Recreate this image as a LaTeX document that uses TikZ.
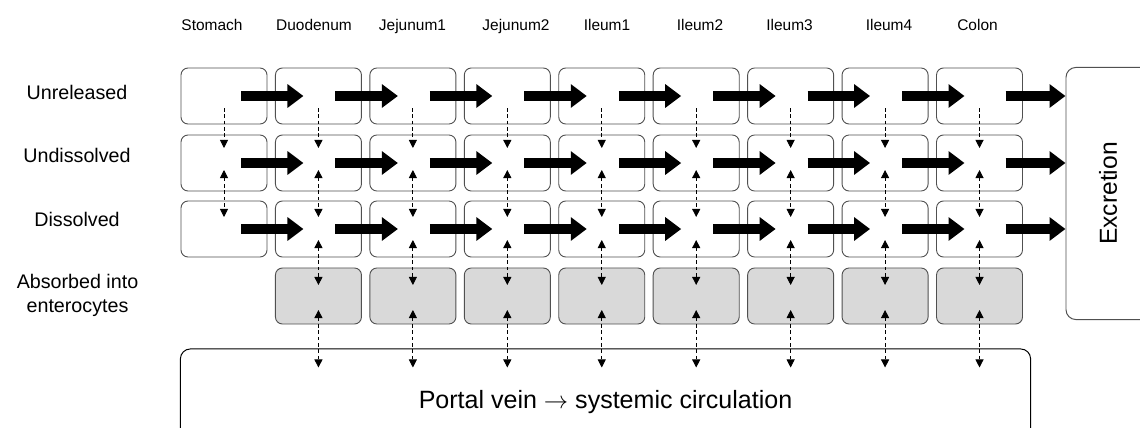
\documentclass[tikz,border=0pt]{standalone}
\usepackage{fontspec}
\setmainfont{Liberation Sans}
\usetikzlibrary{arrows.meta,positioning,calc}
\definecolor{boxline}{HTML}{505050}
\definecolor{absfill}{HTML}{D9D9D9}

\begin{document}
\begin{tikzpicture}[
  x=0.025cm, y=-0.025cm,
  compnode/.style={draw=boxline, rounded corners=5pt, minimum width=2.15cm, minimum height=1.4cm,
                   inner sep=0pt, line width=0.65pt},
  absnode/.style={compnode, fill=absfill},
  bignode/.style={draw, rounded corners=7pt, line width=0.7pt, inner sep=0pt},
  collabel/.style={font=\fontsize{11}{13}\selectfont, anchor=base},
  rowlabel/.style={font=\fontsize{14}{17}\selectfont, align=center},
  fatarr/.style={-{Triangle[length=0.4cm,width=0.57cm]}, line width=0.27cm},
  flowarr/.style={-{Triangle[length=0.2cm,width=0.2cm]}, dash pattern=on 2.5pt off 2pt, line width=0.6pt},
  twoarr/.style={{Triangle[length=0.2cm,width=0.2cm]}-{Triangle[length=0.2cm,width=0.2cm]},
                 dash pattern=on 2.5pt off 2pt, line width=0.6pt},
]
\clip (0,0) rectangle (1140,428);

% compartments
\foreach \i/\seg/\lx in {0/Stomach/212, 1/Duodenum/314, 2/Jejunum1/412.5, 3/Jejunum2/516,
                         4/Ileum1/607, 5/Ileum2/700, 6/Ileum3/789.6, 7/Ileum4/889, 8/Colon/977.5}{
  \node[collabel] (col\i) at (\lx,30) {\seg};
  \node[compnode] (unrel\i) at ({224+94.44*\i},96)  {};
  \node[compnode] (undis\i) at ({224+94.44*\i},163) {};
  \node[compnode] (dis\i)   at ({224+94.44*\i},229) {};
}
\foreach \i in {1,...,8}{
  \node[absnode] (abs\i) at ({224+94.44*\i},296) {};
}

\node[rowlabel] (lunrel) at (77,92)    {Unreleased};
\node[rowlabel] (lundis) at (77,155)   {Undissolved};
\node[rowlabel] (ldis)   at (77,219.5) {Dissolved};
\node[rowlabel] (labs)   at (77.5,295) {Absorbed into\\enterocytes};

\node[bignode, draw=boxline, minimum width=2.1cm, minimum height=6.3cm] (excr) at (1108,193.5)
  {\fontsize{17.5}{20}\selectfont\rotatebox{90}{Excretion}};
\node[bignode, minimum width=21.25cm, minimum height=2.65cm,
      font=\fontsize{17.8}{21}\selectfont] (portal) at (605.5,402)
  {Portal vein $\rightarrow$ systemic circulation};

% transit
\foreach \row in {unrel,undis,dis}{
  \foreach \i [count=\j from 1] in {0,...,7}{
    \draw[fatarr] ([xshift=0.425cm]\row\i.center) -- ([xshift=-0.375cm]\row\j.center);
  }
  \draw[fatarr] ([xshift=0.65cm]\row8.center) -- (\row8.center -| excr.west);
}

% release, dissolution, absorption
\draw[flowarr] ([yshift=-0.3cm]unrel0.center)  -- ([yshift=0.375cm]undis0.center);
\draw[twoarr]  ([yshift=-0.175cm]undis0.center) -- ([yshift=0.3cm]dis0.center);
\foreach \i in {1,...,8}{
  \draw[flowarr] ([yshift=-0.3cm]unrel\i.center)  -- ([yshift=0.375cm]undis\i.center);
  \draw[twoarr]  ([yshift=-0.175cm]undis\i.center) -- ([yshift=0.3cm]dis\i.center);
  \draw[twoarr]  ([yshift=-0.275cm]dis\i.center)   -- ([yshift=0.275cm]abs\i.center);
  \draw[twoarr]  ([yshift=-0.35cm]abs\i.center)    -- ($(portal.north -| abs\i.center)+(0,19)$);
}

\end{tikzpicture}
\end{document}
